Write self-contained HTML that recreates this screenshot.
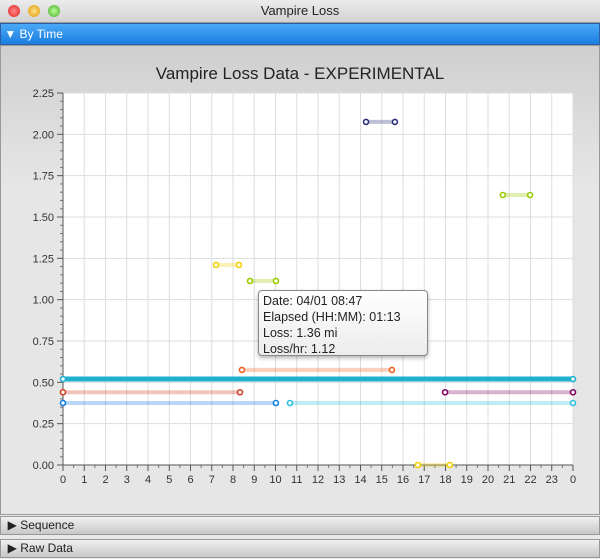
<!DOCTYPE html>
<html><head><meta charset="utf-8"><style>
body{margin:0;width:600px;height:559px;overflow:hidden;font-family:"Liberation Sans","DejaVu Sans",sans-serif;background:#e8e8e8}
.titlebar{position:absolute;left:0;top:0;width:600px;height:22px;background:linear-gradient(#ececec,#d2d2d2);border-bottom:1px solid #999;text-align:center;font-size:13px;line-height:22px;color:#222}
.dot{position:absolute;top:5px;width:12px;height:12px;border-radius:50%}
.bar{position:absolute;left:0;width:598px;border:1px solid #999;font-size:12px;color:#222}
.blue{top:23px;height:20px;background:linear-gradient(#4aa8f6,#1a7fe0);color:#fff;border-color:#2a5fa8;line-height:20px}
.gray{height:17px;line-height:17px;background:linear-gradient(#f0f0f0,#c8c8c8)}
.panel{position:absolute;left:0;top:45px;width:598px;height:468px;border:1px solid #999;background:linear-gradient(#cfcfcf,#e6e6e6 30%,#e6e6e6)}
</style></head><body>
<div class="titlebar">Vampire Loss
<div class="dot" style="left:8px;background:radial-gradient(#f88,#d22)"></div>
<div class="dot" style="left:28px;background:radial-gradient(#fd8,#d90)"></div>
<div class="dot" style="left:48px;background:radial-gradient(#bf9,#4a2)"></div>
</div>
<div class="bar blue">&nbsp;▼ By Time</div>
<div class="panel"></div>
<div class="bar gray" style="top:516px">&nbsp;&nbsp;▶ Sequence</div>
<div class="bar gray" style="top:539px">&nbsp;&nbsp;▶ Raw Data</div>
<svg id="c" width="600" height="559" style="position:absolute;left:0;top:0"></svg>
<div style="position:absolute;left:258px;top:290px;width:160px;height:60px;padding:2px 4px;background:linear-gradient(#fff,#ececec);border:1px solid #888;border-radius:4px;box-shadow:0 2px 4px rgba(0,0,0,.3);font-size:12.5px;line-height:16px;color:#222">Date: 04/01 08:47<br>Elapsed (HH:MM): 01:13<br>Loss: 1.36 mi<br>Loss/hr: 1.12</div>
<script>
const starts=[14.26,20.7,7.2,8.8,8.42,0,0,17.98,0,10.68,16.7];
const ends=[15.62,21.98,8.28,10.02,15.48,24,8.33,24,10.02,24,18.2];
const values=[2.075,1.633,1.21,1.113,0.575,0.52,0.44,0.44,0.375,0.375,0];
const colors=['#2a2f7a','#9acd00','#f2d000','#9acd00','#f06020','#20b0d0','#d04020','#800060','#1080e0','#30c0e0','#f2d000'];
const yTicks=[0,0.25,0.5,0.75,1,1.25,1.5,1.75,2,2.25];
const xLabels=['0','1','2','3','4','5','6','7','8','9','10','11','12','13','14','15','16','17','18','19','20','21','22','23','0'];
const L=63,R=573,T=93,B=465;
const sx=h=>L+(R-L)*h/24, sy=v=>B-(B-T)*v/2.25;
const s=document.getElementById('c');const NS='http://www.w3.org/2000/svg';
function mk(t,a,p){const e=document.createElementNS(NS,t);for(const k in a)e.setAttribute(k,a[k]);(p||s).appendChild(e);return e;}
let e=mk('text',{x:300,y:79,'text-anchor':'middle','font-size':17,fill:'#222'});e.textContent='Vampire Loss Data - EXPERIMENTAL';


e=mk('rect',{x:L,y:T,width:R-L,height:B-T,fill:'#fff'});


for(let i=0;i<=24;i++){mk('line',{x1:sx(i),x2:sx(i),y1:T,y2:B,stroke:'#ddd'});
 mk('line',{x1:sx(i),x2:sx(i),y1:B,y2:B+6,stroke:'#555'});
 if(i<24)mk('line',{x1:sx(i+.5),x2:sx(i+.5),y1:B,y2:B+3,stroke:'#777'});
 e=mk('text',{x:sx(i),y:B+18,'text-anchor':'middle','font-size':11,fill:'#333'});e.textContent=xLabels[i];
 
 }
yTicks.forEach((v,i)=>{mk('line',{x1:L,x2:R,y1:sy(v),y2:sy(v),stroke:'#ddd'});
 mk('line',{x1:L-6,x2:L,y1:sy(v),y2:sy(v),stroke:'#555'});
 if(i<yTicks.length-1)for(let k=1;k<5;k++)mk('line',{x1:L-3,x2:L,y1:sy(v+k*0.05),y2:sy(v+k*0.05),stroke:'#777'});
 e=mk('text',{x:L-9,y:sy(v)+4,'text-anchor':'end','font-size':11,fill:'#333'});e.textContent=v.toFixed(2);
 
 });
mk('line',{x1:L,x2:L,y1:T,y2:B,stroke:'#555'});mk('line',{x1:L,x2:R,y1:B,y2:B,stroke:'#555'});
values.forEach((v,i)=>{const y=sy(v),x1=sx(starts[i]),x2=sx(ends[i]);const thick=i===5;
 e=mk('line',{x1,x2,y1:y,y2:y,stroke:colors[i],'stroke-width':thick?5:4,'stroke-opacity':thick?1:0.3});
 
 
 [x1,x2].forEach(x=>{e=mk('circle',{cx:x,cy:y,r:2.5,fill:'#fff',stroke:colors[i],'stroke-width':1.6});
 
 });});
</script>
</body></html>
